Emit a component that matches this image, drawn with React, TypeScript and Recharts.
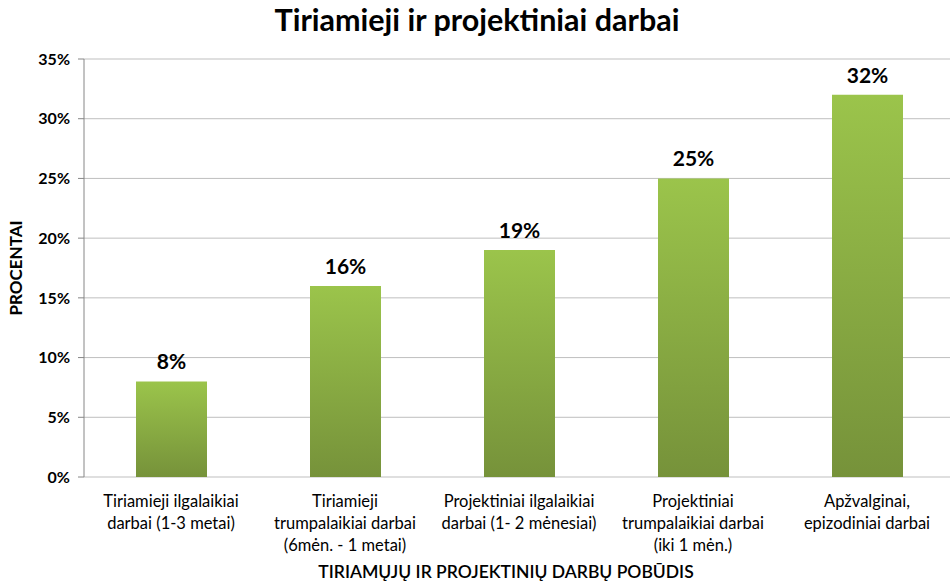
import React from 'react';
import { BarChart, Bar, XAxis, YAxis, CartesianGrid, LabelList, Label } from 'recharts';

const CATEGORIES = [
  'Tiriamieji ilgalaikiai|darbai (1-3 metai)',
  'Tiriamieji|trumpalaikiai darbai|(6mėn. - 1 metai)',
  'Projektiniai ilgalaikiai|darbai (1- 2 mėnesiai)',
  'Projektiniai|trumpalaikiai darbai|(iki 1 mėn.)',
  'Apžvalginai,|epizodiniai darbai',
];
const VALUES = [8, 16, 19, 25, 32];
const Y_TICKS = [0, 5, 10, 15, 20, 25, 30, 35];
const BOUNDARY_TICKS = [0, 1, 2, 3, 4, 5];

const DATA = CATEGORIES.map((name, i) => ({ name, value: VALUES[i] }));

const FONT = 'Lato, "Open Sans", sans-serif';

const CategoryTick = ({ x, y, payload }: { x?: number; y?: number; payload?: { value: string } }) => {
  const lines = (payload?.value ?? '').split('|');
  return (
    <text x={x} y={y} textAnchor="middle" fontFamily={FONT} fontSize={16.5} fill="#000">
      {lines.map((line, i) => (
        <tspan key={`l-${i}`} x={x} dy={22}>{line}</tspan>
      ))}
    </text>
  );
};

export default function App() {
  return (
    <div style={{ position: 'absolute', left: 0, top: 0, width: 950, height: 585, overflow: 'hidden', background: '#fff' }}>
      <div style={{ position: 'absolute', top: 1, width: 954, textAlign: 'center', fontFamily: FONT, fontWeight: 700, fontSize: 30.5, color: '#000' }}>
        Tiriamieji ir projektiniai darbai
      </div>
      <BarChart
        width={960}
        height={585}
        data={DATA}
        margin={{ top: 59, right: 6, left: 0, bottom: 0 }}
        barSize={71}
      >
        <CartesianGrid stroke="#bfbfbf" vertical={false} />
        <XAxis
          xAxisId="bound"
          type="number"
          domain={[0, 5]}
          ticks={BOUNDARY_TICKS}
          tick={() => <g />}
          axisLine={{ stroke: '#868686' }}
          tickLine={{ stroke: '#868686' }}
          tickSize={6}
          height={0}
        />
        <XAxis
          dataKey="name"
          xAxisId="cat"
          tick={<CategoryTick />}
          tickLine={false}
          axisLine={false}
          interval={0}
          height={108}
        >
          <Label
            value="TIRIAMŲJŲ IR PROJEKTINIŲ DARBŲ POBŪDIS"
            position="insideBottom"
            offset={7}
            dx={-13}
            style={{ fontFamily: FONT, fontSize: 17.5, fontWeight: 600, fill: '#000' }}
          />
        </XAxis>
        <YAxis
          domain={[0, 35]}
          ticks={Y_TICKS}
          tickFormatter={(v: number) => `${v}%`}
          tick={{ fontFamily: FONT, fontSize: 16, fontWeight: 700, fill: '#000', dx: -6 }}
          tickLine={{ stroke: '#868686' }}
          tickSize={6}
          axisLine={{ stroke: '#868686' }}
          width={84}
        >
          <Label
            value="PROCENTAI"
            angle={-90}
            position="insideLeft"
            offset={16}
            style={{ fontFamily: FONT, fontSize: 17, fontWeight: 700, fill: '#000', textAnchor: 'middle' }}
          />
        </YAxis>
        <defs>
          <linearGradient id="grad-bar" x1="0" y1="0" x2="0" y2="1">
            <stop offset="0%" stopColor="#9bc44b" />
            <stop offset="100%" stopColor="#76923a" />
          </linearGradient>
        </defs>
        <Bar dataKey="value" xAxisId="cat" fill="url(#grad-bar)" isAnimationActive={false}>
          <LabelList
            dataKey="value"
            position="top"
            offset={12}
            formatter={(v: number) => `${v}%`}
            style={{ fontFamily: FONT, fontSize: 21, fontWeight: 700, fill: '#000' }}
          />
        </Bar>
      </BarChart>
    </div>
  );
}
